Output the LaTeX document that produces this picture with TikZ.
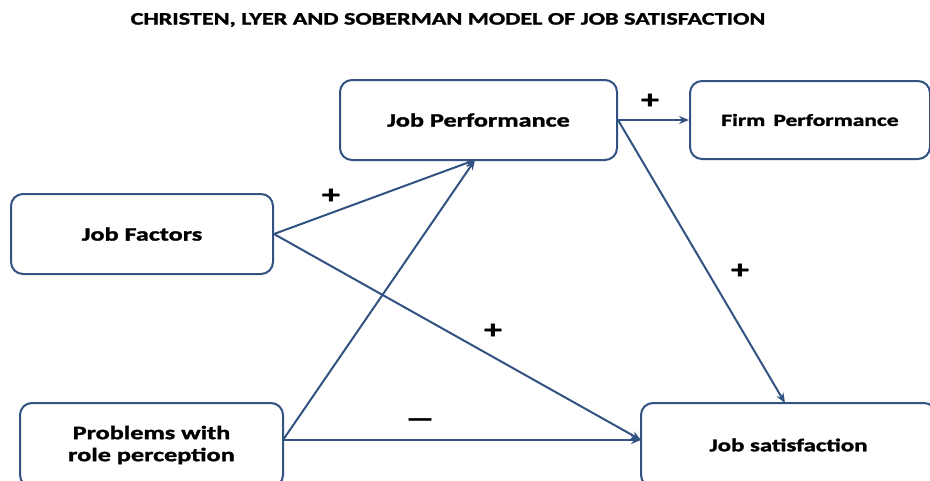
\documentclass[tikz,border=0pt]{standalone}
\usepackage{fontspec}
\setmainfont{Carlito}[FakeStretch=1.38, BoldFeatures={FakeBold=1.6}]
\usetikzlibrary{arrows.meta}
\definecolor{edge}{RGB}{50,82,130}
\tikzset{
  box/.style={draw=edge, line width=2pt, rounded corners=12pt, fill=white,
    inner sep=0pt, align=center, font=\bfseries\fontsize{19}{22}\selectfont},
  link/.style={draw=edge, line width=2pt, -{Stealth[length=10pt,width=8pt]}},
  sign/.style={font=\bfseries\fontsize{26}{26}\selectfont}
}
\begin{document}
\begin{tikzpicture}[x=1pt,y=-1pt]
\useasboundingbox (0,0) rectangle (930,480);
\node[font=\bfseries\fontsize{17.5}{19}\selectfont] (title) at (448,20) {CHRISTEN, LYER AND SOBERMAN MODEL OF JOB SATISFACTION};

\node[box, minimum width=277pt, minimum height=80pt] (jp) at (478.5,120) {Job Performance};
\node[box, minimum width=240pt, minimum height=78pt, font=\bfseries\fontsize{17}{19}\selectfont] (fp) at (810,120) {Firm\, Performance};
\node[box, minimum width=262pt, minimum height=80pt] (jf) at (142,234) {Job Factors};
\node[box, minimum width=263pt, minimum height=84pt] (pr) at (151.5,445) {Problems with\\role perception};
\node[box, minimum width=295pt, minimum height=84pt, font=\bfseries\fontsize{18}{20}\selectfont] (js) at (788.5,445) {Job satisfaction};

\coordinate (jpb) at (475,160);
\coordinate (jst) at (785,403);
\coordinate (jsl) at (641,440);
\coordinate (prr) at (283,440);

\draw[link] (jf.east) -- (jpb);
\draw[link] (jf.east) -- (jsl);
\draw[link] (prr) -- (jpb);
\draw[link] (prr) -- (jsl);
\draw[link] (jp.east) -- (fp.west);
\draw[link] (jp.east) -- (jst);

\node[sign] (s1) at (331,196) {+};
\node[sign] (s2) at (650,101) {+};
\node[sign] (s3) at (740,271) {+};
\node[sign] (s4) at (493,331) {+};
\node[font=\bfseries\fontsize{22}{22}\selectfont] (s5) at (420,422) {—};
\end{tikzpicture}
\end{document}
